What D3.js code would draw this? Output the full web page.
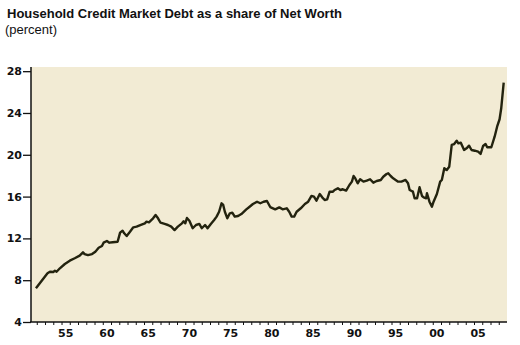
<!DOCTYPE html>
<html>
<head>
<meta charset="utf-8">
<script src="https://cdn.jsdelivr.net/npm/d3@7"></script>
<style>
  html, body { margin: 0; padding: 0; background: #ffffff; }
  svg { display: block; }
</style>
</head>
<body>
<svg id="chart" width="520" height="345"></svg>
<script>
// Household credit market debt as a percent of net worth (decimal year, percent)
const years = [
  1951.9, 1952.6, 1953.3, 1953.6, 1954.0, 1954.2, 1954.4, 1954.8, 1955.4, 1956.0,
  1956.6, 1957.2, 1957.6, 1957.8, 1958.2, 1958.7, 1959.1, 1959.5, 1959.9, 1960.1,
  1960.5, 1960.8, 1961.2, 1961.8, 1962.1, 1962.4, 1962.6, 1962.9, 1963.3, 1963.7,
  1964.1, 1964.7, 1965.1, 1965.3, 1965.6, 1966.1, 1966.4, 1966.7, 1967.0, 1967.5,
  1967.9, 1968.3, 1968.7, 1969.1, 1969.6, 1969.8, 1970.0, 1970.2, 1970.5, 1970.9,
  1971.3, 1971.7, 1972.0, 1972.4, 1972.7, 1973.1, 1973.5, 1973.8, 1974.1, 1974.4,
  1974.6, 1974.8, 1975.1, 1975.4, 1975.7, 1976.0, 1976.4, 1976.8, 1977.4, 1977.8,
  1978.2, 1978.7, 1979.1, 1979.5, 1979.9, 1980.3, 1980.9, 1981.4, 1981.8, 1982.3,
  1982.6, 1982.9, 1983.2, 1983.5, 1984.0, 1984.5, 1984.9, 1985.3, 1985.6, 1985.9,
  1986.3, 1986.6, 1986.9, 1987.2, 1987.5, 1987.9, 1988.1, 1988.5, 1988.8, 1989.1,
  1989.5, 1989.9, 1990.2, 1990.4, 1990.6, 1990.9, 1991.2, 1991.6, 1992.0, 1992.4,
  1992.8, 1993.2, 1993.7, 1994.0, 1994.4, 1994.6, 1994.9, 1995.2, 1995.8, 1996.2,
  1996.7, 1997.0, 1997.2, 1997.6, 1997.8, 1998.1, 1998.4, 1998.7, 1998.9, 1999.2,
  1999.3, 1999.6, 1999.9, 2000.1, 2000.5, 2000.9, 2001.1, 2001.4, 2001.7, 2002.0,
  2002.3, 2002.6, 2002.9, 2003.1, 2003.4, 2003.8, 2004.1, 2004.4, 2004.7, 2005.1,
  2005.5, 2005.8, 2006.1, 2006.4, 2006.6, 2007.1, 2007.5, 2007.8, 2008.1, 2008.3,
  2008.6
];
const debtShare = [
  7.22, 7.95, 8.66, 8.81, 8.78, 8.90, 8.81, 9.14, 9.55, 9.87,
  10.10, 10.35, 10.67, 10.50, 10.40, 10.50, 10.73, 11.10, 11.27, 11.59,
  11.75, 11.59, 11.63, 11.68, 12.55, 12.74, 12.49, 12.23, 12.64, 13.06,
  13.12, 13.31, 13.44, 13.60, 13.54, 13.92, 14.24, 13.92, 13.50, 13.38,
  13.28, 13.12, 12.80, 13.12, 13.44, 13.63, 13.44, 13.95, 13.69, 12.97,
  13.28, 13.38, 12.97, 13.28, 12.97, 13.38, 13.76, 14.08, 14.55, 15.36,
  15.20, 14.55, 13.92, 14.40, 14.46, 14.08, 14.14, 14.33, 14.78, 15.03,
  15.29, 15.51, 15.36, 15.51, 15.58, 15.00, 14.78, 14.97, 14.78, 14.88,
  14.55, 14.08, 14.08, 14.55, 14.88, 15.29, 15.51, 16.06, 15.99, 15.61,
  16.25, 15.93, 15.67, 15.74, 16.47, 16.47, 16.63, 16.79, 16.63, 16.70,
  16.57, 17.11, 17.43, 17.97, 17.75, 17.27, 17.66, 17.43, 17.52, 17.66,
  17.33, 17.49, 17.59, 17.90, 18.16, 18.23, 17.97, 17.75, 17.43, 17.43,
  17.59, 17.27, 16.63, 16.47, 15.84, 15.84, 16.89, 16.06, 15.93, 15.84,
  16.32, 15.51, 15.03, 15.51, 16.25, 17.43, 17.59, 18.71, 18.55, 18.86,
  20.94, 21.03, 21.35, 21.10, 21.16, 20.46, 20.62, 20.87, 20.46, 20.39,
  20.30, 20.08, 20.84, 21.03, 20.72, 20.72, 21.73, 22.69, 23.40, 24.45,
  26.90
];

// Axis ticks and labels
const yTicks = [4, 8, 12, 16, 20, 24, 28];
const labelYears = [1955, 1960, 1965, 1970, 1975, 1980, 1985, 1990, 1995, 2000, 2005];
const labelText = ["55", "60", "65", "70", "75", "80", "85", "90", "95", "00", "05"];
const title = "Household Credit Market Debt as a share of Net Worth";
const subtitle = "(percent)";

const svg = d3.select("#chart");
const plot = { left: 31, right: 507, top: 67, bottom: 322 };

const x = d3.scaleLinear().domain([1951.3, 2009]).range([plot.left, plot.right]);
const y = d3.scaleLinear().domain([4, 28.4]).range([plot.bottom, plot.top]);

// Titles
svg.append("text")
  .attr("x", 7).attr("y", 18)
  .attr("font-family", "Liberation Sans, Arial, sans-serif")
  .attr("font-weight", "bold").attr("font-size", 13)
  .attr("fill", "#111")
  .text(title);
svg.append("text")
  .attr("x", 5).attr("y", 34)
  .attr("font-family", "Liberation Sans, Arial, sans-serif")
  .attr("font-size", 13)
  .attr("fill", "#111")
  .text(subtitle);

// Plot background
svg.append("rect")
  .attr("x", plot.left).attr("y", plot.top)
  .attr("width", plot.right - plot.left).attr("height", plot.bottom - plot.top)
  .attr("fill", "#f2ebd4");

// Y axis
const yAxis = d3.axisLeft(y).tickValues(yTicks).tickSize(8).tickPadding(1).tickSizeOuter(0);
const gy = svg.append("g").attr("transform", `translate(${plot.left},0)`).call(yAxis);
gy.select(".domain").attr("stroke", "#111").attr("stroke-width", 1.5)
  .attr("d", `M0,${plot.top}V${plot.bottom}`);
gy.selectAll(".tick line").attr("stroke", "#111").attr("stroke-width", 1.3);
gy.selectAll(".tick text")
  .attr("font-family", "DejaVu Sans, sans-serif").attr("font-weight", "bold")
  .attr("font-size", 11).attr("fill", "#111");

// X axis: a small tick at each year boundary, labels centred on each labelled year
const yearBounds = d3.range(1952, 2009);
const xAxis = d3.axisBottom(x).tickValues(yearBounds).tickSize(3).tickFormat("").tickSizeOuter(0);
const gx = svg.append("g").attr("transform", `translate(0,${plot.bottom})`).call(xAxis);
gx.select(".domain").attr("stroke", "#111").attr("stroke-width", 1.5)
  .attr("d", `M${plot.left - 1},0H${plot.right}`);
gx.selectAll(".tick line").attr("stroke", "#111").attr("stroke-width", 1);

gx.selectAll(".year-label")
  .data(labelYears)
  .join("text")
  .attr("class", "year-label")
  .attr("x", d => x(d + 0.5))
  .attr("y", 15)
  .attr("text-anchor", "middle")
  .attr("font-family", "DejaVu Sans, sans-serif").attr("font-weight", "bold")
  .attr("font-size", 11).attr("fill", "#111")
  .text((d, i) => labelText[i]);

// Series line
const line = d3.line()
  .x((d, i) => x(years[i]))
  .y(d => y(d));
svg.append("path")
  .datum(debtShare)
  .attr("d", line)
  .attr("fill", "none")
  .attr("stroke", "#23230f")
  .attr("stroke-width", 2.4)
  .attr("stroke-linejoin", "round");
</script>
</body>
</html>
